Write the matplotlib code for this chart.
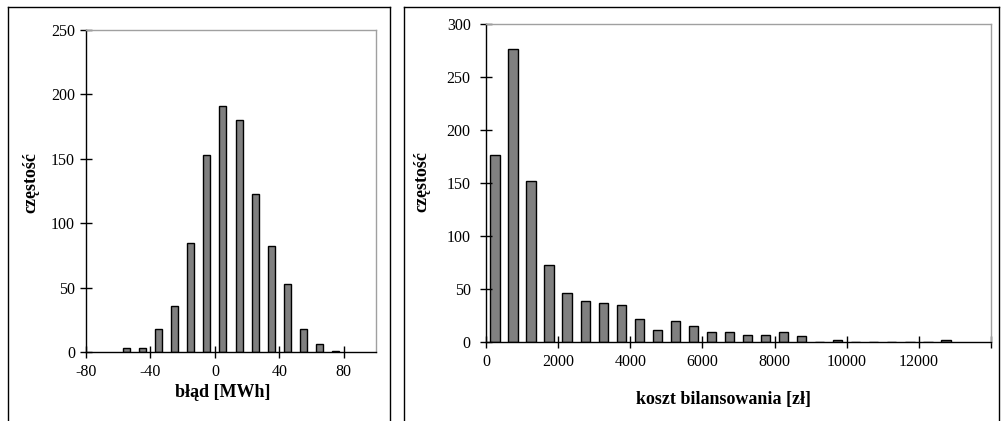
import numpy as np
import matplotlib
matplotlib.use('Agg')
import matplotlib.pyplot as plt
from matplotlib.lines import Line2D

# left histogram: forecast error [MWh]
err_bins = [-55, -45, -35, -25, -15, -5, 5, 15, 25, 35, 45, 55, 65, 75]
err_counts = [3, 3, 18, 36, 85, 153, 191, 180, 123, 82, 53, 18, 6, 1]
err_ticks = [-80, -40, 0, 40, 80]

# right histogram: balancing cost [zl]
cost_bins = [250 + 500 * i for i in range(26)]
cost_counts = [176, 276, 152, 73, 46, 39, 37, 35, 22, 11, 20, 15, 9, 9, 7, 7, 9, 6,
               0, 2, 0, 0, 0, 0, 0, 2]
cost_ticks = [0, 2000, 4000, 6000, 8000, 10000, 12000, 14000]
cost_ticklabels = ['0', '2000', '4000', '6000', '8000', '10000', '12000', '']

plt.rcParams['font.family'] = ['Liberation Serif', 'DejaVu Serif']
plt.rcParams['axes.unicode_minus'] = False

W, H = 1002, 421
fig = plt.figure(figsize=(W / 100, H / 100), dpi=100)

# panel frames (boxes around each chart)
def frame(x0, x1, y0):
    fx0, fx1 = x0 / W, x1 / W
    fy = 1 - y0 / H
    for xs, ys in [([fx0, fx0], [0, fy]), ([fx0, fx1], [fy, fy]), ([fx1, fx1], [fy, 0])]:
        fig.add_artist(Line2D(xs, ys, color='black', lw=1.0))

frame(8, 390, 7)
frame(404, 999, 7)


def style(ax, ypad):
    for s in ['top', 'right']:
        ax.spines[s].set_color('#a0a0a0')
        ax.spines[s].set_linewidth(1.0)
    for s in ['left', 'bottom']:
        ax.spines[s].set_color('black')
        ax.spines[s].set_linewidth(1.0)
    ax.tick_params(direction='inout', length=8, width=1, labelsize=11.5,
                   top=False, right=False)
    ax.tick_params(axis='x', pad=5)
    ax.tick_params(axis='y', pad=ypad)


def box(l, r, t, b):
    return [l / W, 1 - b / H, (r - l) / W, (b - t) / H]


# left chart
ax1 = fig.add_axes(box(86, 376, 30, 352))
ax1.bar(err_bins, err_counts, width=4.4, color='#808080', edgecolor='black', linewidth=1.0)
ax1.set_xlim(-80, 100)
ax1.set_ylim(0, 250)
ax1.set_xticks(err_ticks)
ax1.set_yticks(range(0, 251, 50))
style(ax1, 4)
ax1.set_xlabel('błąd [MWh]', fontsize=13, fontweight='bold')
ax1.set_ylabel('częstość', fontsize=13, fontweight='bold')
ax1.xaxis.set_label_coords(0.47, -0.10)
ax1.yaxis.set_label_coords(-0.162, 0.525)

# right chart
ax2 = fig.add_axes(box(486, 991, 24, 342))
ax2.bar(cost_bins, cost_counts, width=260, color='#808080', edgecolor='black', linewidth=1.0)
ax2.set_xlim(0, 14000)
ax2.set_ylim(0, 300)
ax2.set_xticks(cost_ticks)
ax2.set_xticklabels(cost_ticklabels)
ax2.set_yticks(range(0, 301, 50))
style(ax2, 7)
ax2.set_xlabel('koszt bilansowania [zł]', fontsize=13, fontweight='bold')
ax2.set_ylabel('częstość', fontsize=13, fontweight='bold')
ax2.xaxis.set_label_coords(0.47, -0.154)
ax2.yaxis.set_label_coords(-0.111, 0.503)

fig.savefig('out.png', dpi=100)
